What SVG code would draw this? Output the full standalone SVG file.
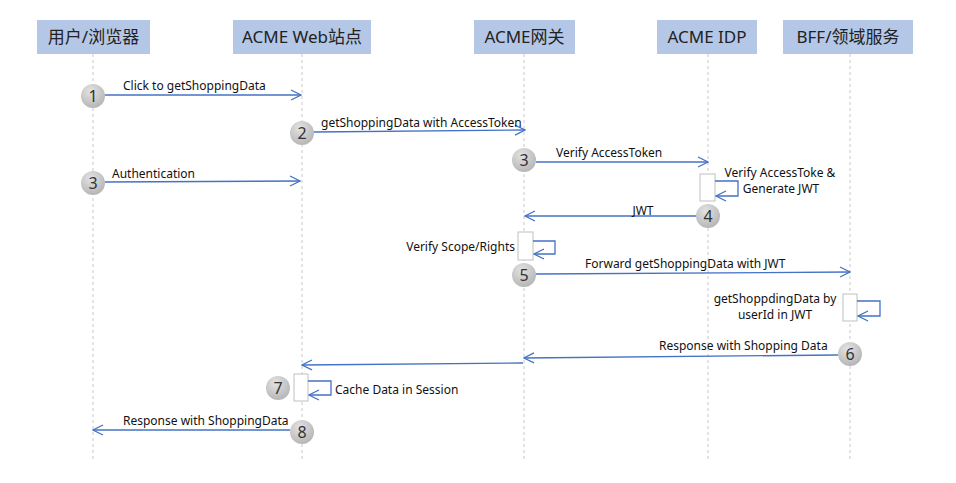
<svg xmlns="http://www.w3.org/2000/svg" width="956" height="483" viewBox="0 0 956 483">
<defs>
<radialGradient id="g" cx="0.4" cy="0.3" r="0.8">
<stop offset="0" stop-color="#e3e3e3"/>
<stop offset="1" stop-color="#b0b0b0"/>
</radialGradient>
<marker id="a" markerWidth="12" markerHeight="12" refX="11" refY="6" orient="auto" markerUnits="userSpaceOnUse">
<path d="M1,1 L11,6 L1,11" fill="none" stroke="#4472c4" stroke-width="1.2"/>
</marker>
</defs>
<style>
.hd{fill:#b4c7e7}
.ht{font-family:"Noto Sans","Noto Sans CJK SC",sans-serif;font-size:17px;fill:#222;text-anchor:middle}
.ll{stroke:#c8c8c8;stroke-width:1;stroke-dasharray:3,3}
.m{stroke:#4472c4;stroke-width:1.3;fill:none;marker-end:url(#a)}
.lb{font-family:"Noto Sans",sans-serif;font-size:12px;fill:#111}
.c{fill:url(#g)}
.n{font-family:"Noto Sans",sans-serif;font-size:16px;fill:#333;text-anchor:middle}
.act{fill:#fff;stroke:#bfbfbf;stroke-width:1}
</style>
<rect width="956" height="483" fill="#fff"/>
<g id="lifelines">
<line class="ll" x1="93" y1="54" x2="93" y2="460"/>
<line class="ll" x1="302" y1="54" x2="302" y2="460"/>
<line class="ll" x1="524" y1="54" x2="524" y2="460"/>
<line class="ll" x1="708" y1="54" x2="708" y2="460"/>
<line class="ll" x1="850" y1="54" x2="850" y2="460"/>
</g>
<g id="user"><rect class="hd" x="37" y="20" width="113" height="34"/><text class="ht" x="93.5" y="43">用户/浏览器</text></g>
<g id="web"><rect class="hd" x="233" y="20" width="138" height="34"/><text class="ht" x="302" y="43">ACME Web站点</text></g>
<g id="gateway"><rect class="hd" x="474" y="20" width="101" height="34"/><text class="ht" x="524.5" y="43">ACME网关</text></g>
<g id="idp"><rect class="hd" x="657" y="20" width="100" height="34"/><text class="ht" x="707" y="43">ACME IDP</text></g>
<g id="bff"><rect class="hd" x="783" y="20" width="130" height="34"/><text class="ht" x="848" y="43">BFF/领域服务</text></g>
<g id="activations">
<rect class="act" x="700" y="174" width="15" height="27"/>
<rect class="act" x="518" y="232" width="15" height="28"/>
<rect class="act" x="843" y="294" width="14" height="27"/>
<rect class="act" x="294" y="374" width="14" height="27"/>
</g>
<g id="connectors">
<line class="m" x1="105" y1="95" x2="301" y2="95"/>
<line class="m" x1="314" y1="132" x2="525" y2="130"/>
<line class="m" x1="105" y1="182" x2="300" y2="181"/>
<line class="m" x1="536" y1="162" x2="708" y2="162"/>
<path class="m" d="M715,181 H738 V196 H716"/>
<line class="m" x1="696" y1="216" x2="525" y2="216"/>
<path class="m" d="M533,241 H555 V254 H534"/>
<line class="m" x1="536" y1="274" x2="850" y2="272"/>
<path class="m" d="M857,301 H880 V316 H858"/>
<line class="m" x1="838" y1="355" x2="524" y2="358"/>
<line class="m" x1="523" y1="363" x2="302" y2="365"/>
<path class="m" d="M308,381 H331 V395 H309"/>
<line class="m" x1="290" y1="430" x2="93" y2="430"/>
</g>
<g id="labels">
<text class="lb" x="123" y="90">Click to getShoppingData</text>
<text class="lb" x="321" y="127">getShoppingData with AccessToken</text>
<text class="lb" x="112" y="178">Authentication</text>
<text class="lb" x="556" y="157">Verify AccessToken</text>
<text class="lb" x="780" y="177" text-anchor="middle">Verify AccessToke &amp;</text>
<text class="lb" x="781" y="193" text-anchor="middle">Generate JWT</text>
<text class="lb" x="643" y="215" text-anchor="middle">JWT</text>
<text class="lb" x="515" y="251" text-anchor="end">Verify Scope/Rights</text>
<text class="lb" x="585" y="268">Forward getShoppingData with JWT</text>
<text class="lb" x="775" y="303" text-anchor="middle">getShoppdingData by</text>
<text class="lb" x="775" y="319" text-anchor="middle">userId in JWT</text>
<text class="lb" x="659" y="350">Response with Shopping Data</text>
<text class="lb" x="335" y="394">Cache Data in Session</text>
<text class="lb" x="123" y="425">Response with ShoppingData</text>
</g>
<g id="steps">
<g id="s1"><circle class="c" cx="93" cy="96" r="12"/><text class="n" x="93" y="102">1</text></g>
<g id="s2"><circle class="c" cx="302" cy="133" r="12"/><text class="n" x="302" y="139">2</text></g>
<g id="s3a"><circle class="c" cx="93" cy="183" r="12"/><text class="n" x="93" y="189">3</text></g>
<g id="s3b"><circle class="c" cx="524" cy="160" r="12"/><text class="n" x="524" y="166">3</text></g>
<g id="s4"><circle class="c" cx="708" cy="216" r="12"/><text class="n" x="708" y="222">4</text></g>
<g id="s5"><circle class="c" cx="524" cy="275" r="12"/><text class="n" x="524" y="281">5</text></g>
<g id="s6"><circle class="c" cx="850" cy="354" r="12"/><text class="n" x="850" y="360">6</text></g>
<g id="s7"><circle class="c" cx="278" cy="388" r="12"/><text class="n" x="278" y="394">7</text></g>
<g id="s8"><circle class="c" cx="302" cy="432" r="12"/><text class="n" x="302" y="438">8</text></g>
</g>
</svg>
